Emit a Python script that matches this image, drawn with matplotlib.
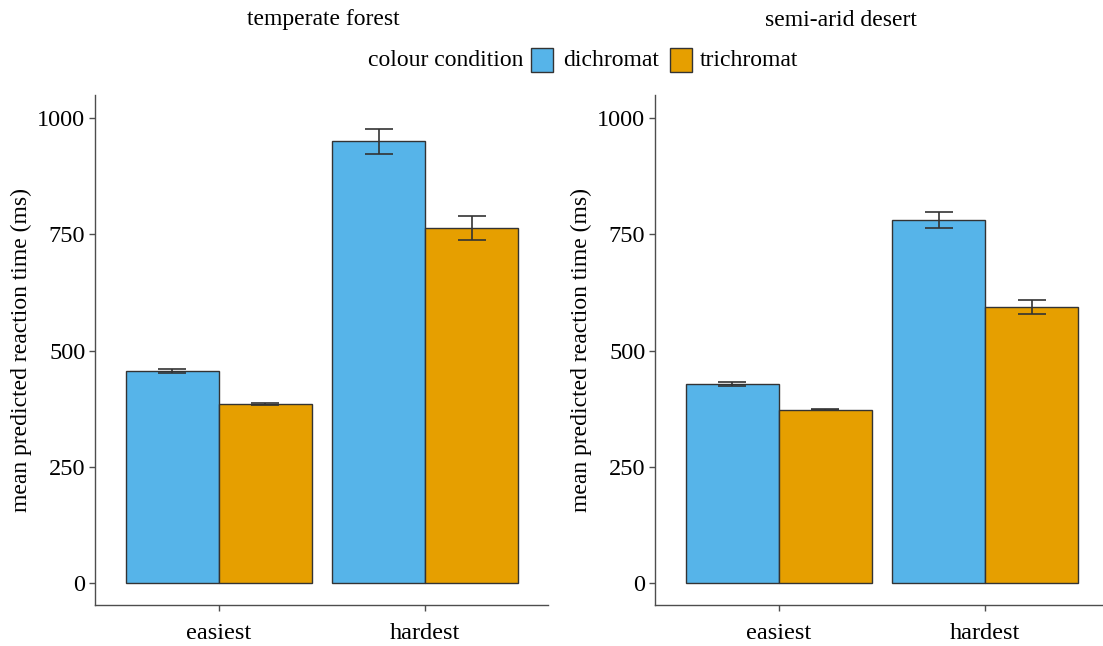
import numpy as np
import matplotlib.pyplot as plt
from matplotlib.patches import Rectangle

# data
panels = ['temperate forest', 'semi-arid desert']
difficulty = ['easiest', 'hardest']
conditions = ['dichromat', 'trichromat']
colours = ['#56B4E9', '#E69F00']

# mean predicted reaction time (ms), [panel][condition][difficulty]
means = [
    [[456, 950], [385, 764]],
    [[428, 781], [373, 595]],
]
errs = [
    [[5, 26], [2, 26]],
    [[5, 17], [1.5, 15]],
]

plt.rcParams['font.family'] = ['Liberation Serif', 'DejaVu Serif']

fig = plt.figure(figsize=(11.03, 6.46), dpi=100)
W, H = 1103, 646
ax_boxes = [(95, 453), (655, 448)]
top_px, bot_px = 95, 605

x = np.arange(1, len(difficulty) + 1)
bw = 0.45
for p, (left, width) in enumerate(ax_boxes):
    ax = fig.add_axes([left / W, (H - bot_px) / H, width / W, (bot_px - top_px) / H])
    for c, cond in enumerate(conditions):
        xs = x + (c - 0.5) * bw
        ax.bar(xs, means[p][c], width=bw, color=colours[c], edgecolor='#333333',
               linewidth=1.0, zorder=2)
        ax.errorbar(xs, means[p][c], yerr=errs[p][c], fmt='none', ecolor='#333333',
                    elinewidth=1.2, capsize=10, capthick=1.2, zorder=3)
    ax.set_xlim(0.4, 0.4 + width / 206.5)
    ax.set_ylim(-47, 1050)
    ax.set_yticks([0, 250, 500, 750, 1000])
    ax.set_xticks(x)
    ax.set_xticklabels(difficulty)
    for s in ['top', 'right']:
        ax.spines[s].set_visible(False)
    for s in ['left', 'bottom']:
        ax.spines[s].set_color('#4d4d4d')
        ax.spines[s].set_linewidth(1.0)
    ax.tick_params(axis='both', labelsize=17.5, colors='#4d4d4d', labelcolor='black',
                   length=4, width=1.0)
    ax.tick_params(axis='y', pad=3)
    ax.tick_params(axis='x', pad=9)
    ax.set_ylabel('mean predicted reaction time (ms)', fontsize=17)
    # ylabel anchor is its right edge on screen
    ax.yaxis.set_label_coords((32 - 95) / 453 if p == 0 else (592 - 655) / 448, 0.5)

# panel titles
fig.text(323 / W, 1 - 20 / H, panels[0], ha='center', va='center', fontsize=17)
fig.text(841 / W, 1 - 20 / H, panels[1], ha='center', va='center', fontsize=17)

# legend
ly = 1 - 60 / H
fig.text(523 / W, ly, 'colour condition', ha='right', va='center', fontsize=17)
box_x = [531, 670]
lab_x = [563, 700]
for c, cond in enumerate(conditions):
    fig.patches.append(Rectangle((box_x[c] / W, 1 - 72 / H), 22 / W, 24 / H,
                                 transform=fig.transFigure, facecolor=colours[c],
                                 edgecolor='#333333', linewidth=1.0))
    fig.text(lab_x[c] / W, ly, cond, ha='left', va='center', fontsize=17)

fig.savefig('out.png', dpi=100)
